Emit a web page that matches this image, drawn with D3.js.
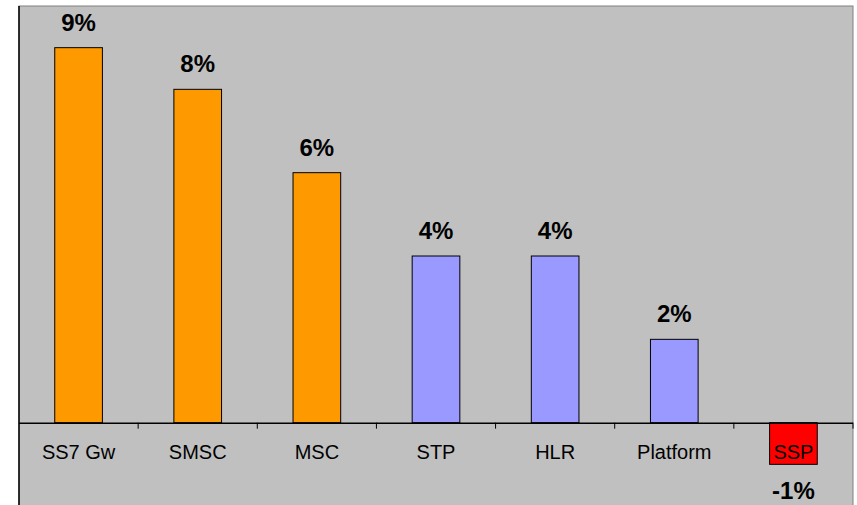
<!DOCTYPE html>
<html>
<head>
<meta charset="utf-8">
<script src="https://cdn.jsdelivr.net/npm/d3@7"></script>
<style>
  body { margin: 0; background: #fff; }
  svg { display: block; font-family: Arial, "Liberation Sans", sans-serif; }
</style>
</head>
<body>
<div id="chart"></div>
<script>
const categories = ["SS7 Gw", "SMSC", "MSC", "STP", "HLR", "Platform", "SSP"];
const growth = [9, 8, 6, 4, 4, 2, -1];
const barColors = ["#ff9900", "#ff9900", "#ff9900", "#9999ff", "#9999ff", "#9999ff", "#ff0000"];

const width = 857;
const height = 505;
const plot = { left: 19, top: 6, right: 853, bottom: 506 };

const svg = d3.select("#chart").append("svg")
    .attr("width", width)
    .attr("height", height);

// plot area background
svg.append("rect")
    .attr("x", plot.left)
    .attr("y", plot.top)
    .attr("width", plot.right - plot.left)
    .attr("height", plot.bottom - plot.top)
    .attr("fill", "#c0c0c0")
    .attr("stroke", "#808080")
    .attr("stroke-width", 1);

const x = d3.scaleBand()
    .domain(categories)
    .range([plot.left, plot.right])
    .paddingInner(0.6)
    .paddingOuter(0.3);

const y = d3.scaleLinear()
    .domain([-2, 10])
    .range([plot.bottom, plot.top]);

// bars
svg.selectAll(".bar")
    .data(categories)
    .enter().append("rect")
    .attr("class", "bar")
    .attr("x", d => x(d))
    .attr("width", x.bandwidth())
    .attr("y", (d, i) => y(Math.max(0, growth[i])))
    .attr("height", (d, i) => Math.abs(y(growth[i]) - y(0)))
    .attr("fill", (d, i) => barColors[i])
    .attr("stroke", "#000")
    .attr("stroke-width", 1);

// value axis line
svg.append("line")
    .attr("x1", plot.left).attr("x2", plot.left)
    .attr("y1", plot.top).attr("y2", height)
    .attr("stroke", "#000")
    .attr("stroke-width", 1.5);

// category axis
const xAxis = svg.append("g")
    .attr("transform", `translate(0,${y(0)})`)
    .call(d3.axisBottom(x).tickSize(0).tickPadding(0));

xAxis.select(".domain")
    .attr("d", `M${plot.left},0.5H${plot.right}`)
    .attr("stroke", "#000")
    .attr("stroke-width", 1.5);

xAxis.selectAll("text")
    .attr("y", 36)
    .attr("dy", null)
    .attr("font-size", 20)
    .attr("font-family", "Arial, 'Liberation Sans', sans-serif")
    .attr("fill", "#000");

// tick marks between categories
const boundaries = d3.range(categories.length + 1).map(i => plot.left + i * x.step());
xAxis.selectAll(".boundary")
    .data(boundaries.slice(1))
    .enter().append("line")
    .attr("class", "boundary")
    .attr("x1", d => d).attr("x2", d => d)
    .attr("y1", 0).attr("y2", 6)
    .attr("stroke", "#000");

// value labels
svg.selectAll(".value")
    .data(categories)
    .enter().append("text")
    .attr("class", "value")
    .attr("x", d => x(d) + x.bandwidth() / 2)
    .attr("y", (d, i) => growth[i] >= 0 ? y(growth[i]) - 17 : y(growth[i]) + 35)
    .attr("text-anchor", "middle")
    .attr("font-size", 24)
    .attr("font-weight", "bold")
    .attr("fill", "#000")
    .text((d, i) => growth[i] + "%");
</script>
</body>
</html>
